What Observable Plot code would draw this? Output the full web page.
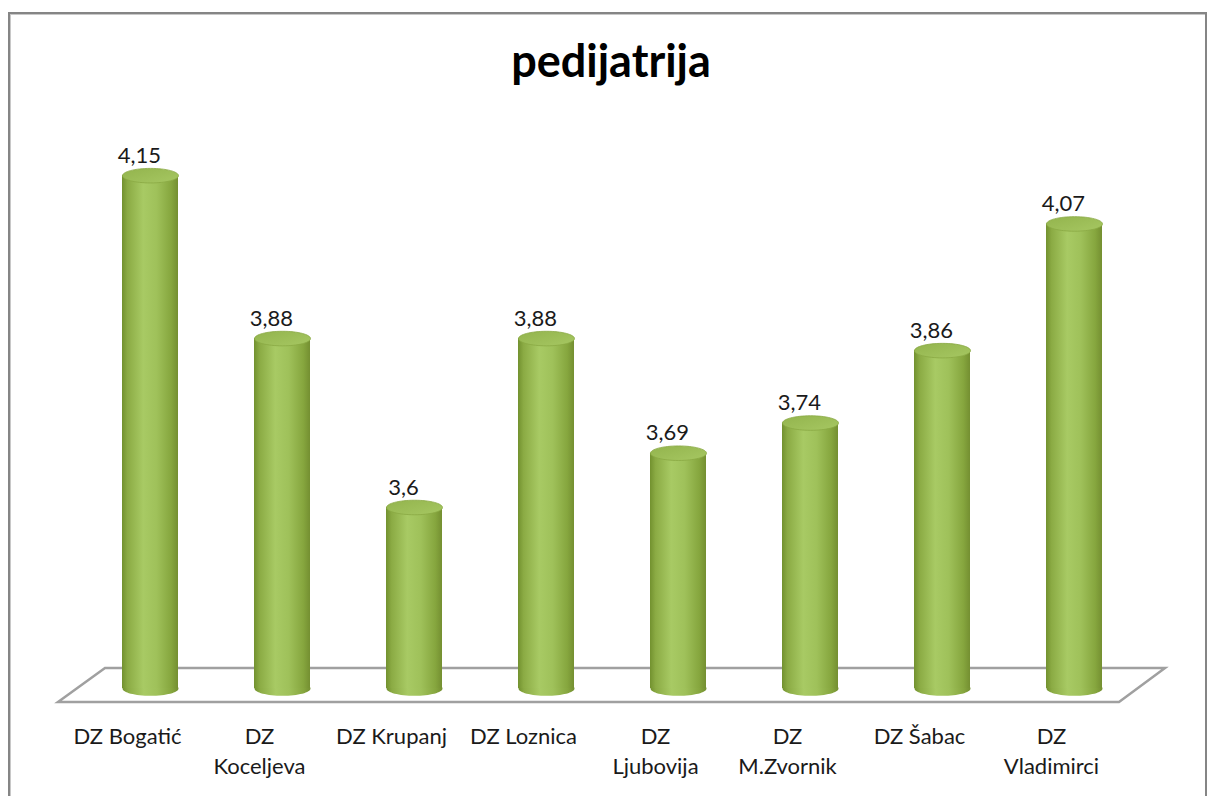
<!DOCTYPE html>
<html><head><meta charset="utf-8">
<script src="https://cdn.jsdelivr.net/npm/d3@7"></script>
<script src="https://cdn.jsdelivr.net/npm/@observablehq/plot@0.6"></script>
<style>
body{margin:0;background:#fff;width:1208px;height:796px;overflow:hidden;position:relative;font-family:Lato,sans-serif}
#frame{position:absolute;left:8px;top:12px;width:1195px;height:800px;border:2px solid #858585;box-shadow:inset 1px 1px 0 #c8c8c8}
#title{position:absolute;left:0;width:1222px;top:33px;text-align:center;font:bold 45px Lato,sans-serif;color:#000}
#chart{position:absolute;left:0;top:110px}
</style></head><body>
<div id="frame"></div>
<div id="title">pedijatrija</div>
<div id="chart"></div>
<script>
const categories = ["DZ Bogatić","DZ Koceljeva","DZ Krupanj","DZ Loznica","DZ Ljubovija","DZ M.Zvornik","DZ Šabac","DZ Vladimirci"];
const tickLabels = ["DZ Bogatić","DZ\nKoceljeva","DZ Krupanj","DZ Loznica","DZ\nLjubovija","DZ\nM.Zvornik","DZ Šabac","DZ\nVladimirci"];
const values = [4.15,3.88,3.6,3.88,3.69,3.74,3.86,4.07];
const yDomain = [3.3, 4.2];

const data = categories.map((c,i)=>({name:c, label:tickLabels[i], value:values[i], base:yDomain[0]}));
const labelOf = new Map(categories.map((c,i)=>[c, tickLabels[i]]));
const fmt = d => String(d).replace(".", ",");

const ellipse = {
  draw(ctx, size) {
    const rx = Math.sqrt(size/Math.PI), ry = rx*0.26, k = 0.5523;
    ctx.moveTo(rx,0);
    ctx.bezierCurveTo(rx, ry*k, rx*k, ry, 0, ry);
    ctx.bezierCurveTo(-rx*k, ry, -rx, ry*k, -rx, 0);
    ctx.bezierCurveTo(-rx, -ry*k, -rx*k, -ry, 0, -ry);
    ctx.bezierCurveTo(rx*k, -ry, rx, -ry*k, rx, 0);
    ctx.closePath();
  }
};

function pick(args) {
  const scales = args.find(a => a && typeof a.y === "function");
  const dims = args.find(a => a && a.marginLeft !== undefined && a.width !== undefined);
  return {scales, dims};
}

const defsMark = function(...args) {
  const g = d3.create("svg:g");
  const defs = g.append("defs");
  const body = defs.append("linearGradient").attr("id","cylBody").attr("x1","0").attr("x2","1").attr("y1","0").attr("y2","0");
  [["0%","#72912f"],["10%","#8bab44"],["38%","#a8ca64"],["62%","#9fc15a"],["88%","#86a63e"],["100%","#748f31"]]
    .forEach(([o,c]) => body.append("stop").attr("offset",o).attr("stop-color",c));
  const top = defs.append("linearGradient").attr("id","cylTop").attr("x1","0").attr("x2","1").attr("y1","0").attr("y2","1");
  [["0%","#93b44d"],["100%","#a6c762"]]
    .forEach(([o,c]) => top.append("stop").attr("offset",o).attr("stop-color",c));
  return g.node();
};

const SKEW = 23;

const floorMark = function(...args) {
  const {scales, dims} = pick(args);
  const left = dims.marginLeft, right = dims.width - dims.marginRight;
  const base = scales.y(yDomain[0]);
  const up = 20, down = 14;
  const p = d3.path();
  p.moveTo(left - SKEW - 1, base + down);
  p.lineTo(left + SKEW, base - up);
  p.lineTo(right + SKEW, base - up);
  p.lineTo(right - SKEW, base + down);
  p.closePath();
  return d3.create("svg:path").attr("d", p.toString()).attr("fill","#fff")
    .attr("stroke","#a0a0a0").attr("stroke-width",2.5).attr("stroke-linejoin","miter").node();
};

const R = 28;

const chart = Plot.plot({
  width: 1208,
  height: 686,
  marginLeft: 82,
  marginRight: 66,
  marginTop: 35,
  marginBottom: 108,
  style: {fontFamily: "Lato, sans-serif", fontSize: "22px", color: "#1a1a1a", background: "transparent"},
  x: {domain: categories, paddingInner: 0.578, paddingOuter: 0.289, label: null},
  y: {domain: yDomain, axis: null},
  marks: [
    defsMark,
    floorMark,
    Plot.dot(data, {x: "name", y: "base", r: R, symbol: ellipse, fill: "url(#cylBody)", stroke: "none"}),
    Plot.barY(data, {x: "name", y1: "base", y2: "value", fill: "url(#cylBody)", insetLeft: 0, insetRight: 0}),
    Plot.dot(data, {x: "name", y: "value", r: R, symbol: ellipse, fill: "url(#cylTop)", stroke: "#89a843", strokeWidth: 0.8}),
    Plot.text(data, {x: "name", y: "value", text: d => fmt(d.value), dx: -11, dy: -20, fontSize: 22, fill: "#1a1a1a"}),
    Plot.axisX({tickSize: 0, tickPadding: 34, dx: -SKEW, tickFormat: d => labelOf.get(d), fontSize: 22, lineHeight: 1.36, fill: "#1a1a1a", label: null})
  ]
});
document.getElementById("chart").appendChild(chart);
</script>
</body></html>
